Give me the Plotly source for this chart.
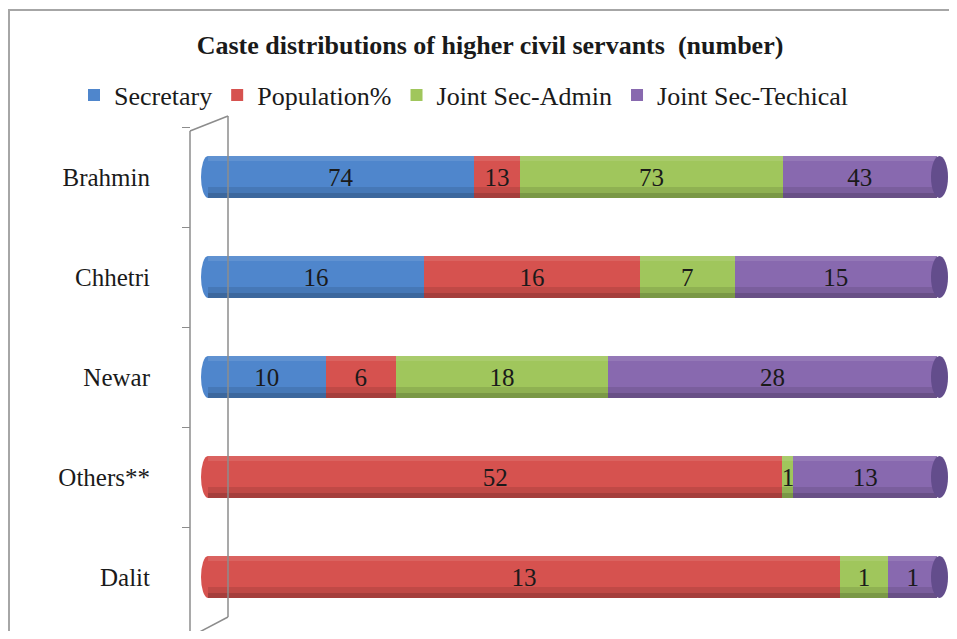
import plotly.graph_objects as go

castes = ["Brahmin", "Chhetri", "Newar", "Others**", "Dalit"]
series_names = ["Secretary", "Population%", "Joint Sec-Admin", "Joint Sec-Techical"]
secretary = [74, 16, 10, 0, 0]
population = [13, 16, 6, 52, 13]
js_admin = [73, 7, 18, 1, 1]
js_tech = [43, 15, 28, 13, 1]
colors = ["#4F86CC", "#D6524F", "#A0C65C", "#8869AF"]
cap_color = "#634D8C"

# page body has an 8px margin: figure is sized so it fits the 957x639 window
OFF = 8
W, H = 957 - 2 * OFF, 639 - 2 * OFF
L, R, T, B = 190 - OFF, 1, 127 - OFF, 4
PW, PH = W - L - R, H - T - B
SERIF = "Liberation Serif"
CAT_PX = 100.0


def px(xs):
    return (xs - OFF - L) / PW


def py(ys):
    return (H - B - (ys - OFF)) / PH


BAR0, BAR100, PLOT0, PLOT_END = 208, 937, 198, 948
unit = (BAR100 - BAR0) / 100.0
xmin = -(BAR0 - PLOT0) / unit
xmax = 100 + (PLOT_END - BAR100) / unit
GAP = 0.58
half = (1 - GAP) / 2

series = [secretary, population, js_admin, js_tech]

fig = go.Figure()
for name, vals, col in zip(series_names, series, colors):
    fig.add_trace(go.Bar(
        y=castes, x=vals, name=name, orientation="h",
        marker=dict(color=col, line=dict(width=0)),
        text=[str(v) if v else "" for v in vals],
        textposition="inside", insidetextanchor="middle", constraintext="none",
        textfont=dict(family=SERIF, size=25, color="#1a1a1a"),
        hoverinfo="x+y+name",
    ))

gray = "#8c8c8c"
shapes = [
    dict(type="path", xref="paper", yref="paper",
         path=f"M {px(9)},{py(700)} L {px(9)},{py(10)} L {px(990)},{py(10)}",
         line=dict(color="#a6a6a6", width=2), layer="below"),
    dict(type="line", xref="paper", yref="paper", x0=px(190), x1=px(228), y0=py(131), y1=py(116),
         line=dict(color=gray, width=1.5)),
    dict(type="line", xref="paper", yref="paper", x0=px(190), x1=px(228), y0=py(637), y1=py(617),
         line=dict(color=gray, width=1.5)),
    dict(type="line", xref="paper", yref="paper", x0=px(190), x1=px(190), y0=py(131), y1=py(660),
         line=dict(color=gray, width=1.5)),
]
for i in range(len(castes)):
    first_col = next(c for s, c in zip(series, colors) if s[i] > 0)
    shapes.append(dict(type="circle", xref="x", yref="y",
                       x0=-7 / unit, x1=7 / unit, y0=i - half, y1=i + half,
                       fillcolor=first_col, line=dict(width=0), layer="below"))
    # cylinder shading
    shapes.append(dict(type="rect", xref="x", yref="y", x0=0, x1=100,
                       y0=i + half - 0.11, y1=i + half, fillcolor="rgba(0,0,0,0.10)",
                       line=dict(width=0), layer="above"))
    shapes.append(dict(type="rect", xref="x", yref="y", x0=0, x1=100,
                       y0=i + half - 0.05, y1=i + half, fillcolor="rgba(0,0,0,0.14)",
                       line=dict(width=0), layer="above"))
    shapes.append(dict(type="rect", xref="x", yref="y", x0=0, x1=100,
                       y0=i - half, y1=i - half + 0.05, fillcolor="rgba(255,255,255,0.10)",
                       line=dict(width=0), layer="above"))
    # end cap
    shapes.append(dict(type="circle", xref="x", yref="y",
                       x0=100 - 6 / unit, x1=100 + 11 / unit, y0=i - half, y1=i + half,
                       fillcolor=cap_color, line=dict(width=0), layer="above"))
shapes.append(dict(type="line", xref="paper", yref="paper", x0=px(228), x1=px(228),
                   y0=py(116), y1=py(617), line=dict(color=gray, width=1.5), layer="above"))

fig.update_layout(
    width=W, height=H,
    margin=dict(l=L, r=R, t=T, b=B),
    barmode="stack", barnorm="percent", bargap=GAP,
    paper_bgcolor="white", plot_bgcolor="white",
    title=dict(text="<b>Caste distributions of higher civil servants  (number)</b>",
               x=(490 - OFF) / W, xref="container", xanchor="center",
               y=1 - (45 - OFF) / H, yanchor="middle",
               font=dict(family=SERIF, size=26, color="#1a1a1a")),
    legend=dict(orientation="h", x=px(74), xanchor="left", y=py(95), yanchor="middle",
                font=dict(family=SERIF, size=26, color="#1a1a1a"),
                traceorder="normal", itemwidth=30, bgcolor="rgba(0,0,0,0)"),
    xaxis=dict(domain=[px(PLOT0), 1], range=[xmin, xmax], visible=False, fixedrange=True),
    yaxis=dict(categoryorder="array", categoryarray=castes,
               range=[-0.5 + PH / CAT_PX, -0.5],
               anchor="free", position=0, showline=False,
               ticks="outside", tickson="boundaries", ticklen=8, tickcolor=gray,
               ticklabelstandoff=40,
               tickfont=dict(family=SERIF, size=25, color="#1a1a1a"),
               showgrid=False, zeroline=False),
    shapes=shapes,
    showlegend=True,
)

fig.write_html("out.html")
